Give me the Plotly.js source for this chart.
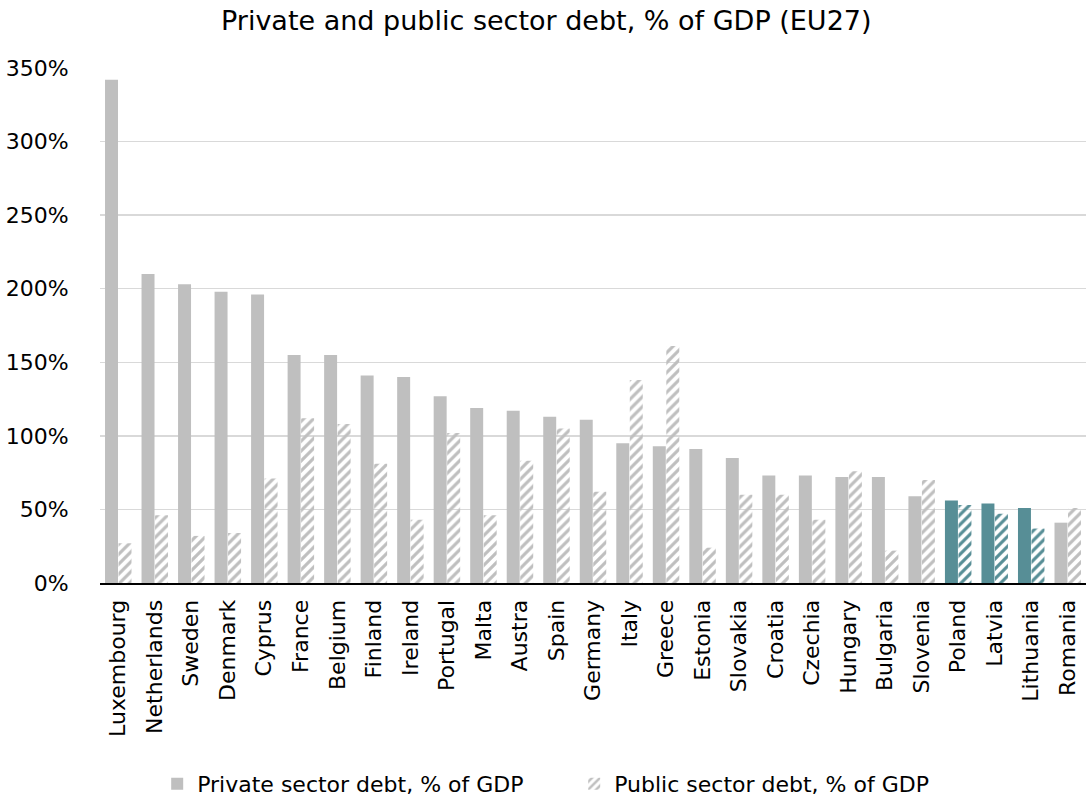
<!DOCTYPE html>
<html>
<head>
<meta charset="utf-8">
<script src="https://cdn.plot.ly/plotly-3.0.1.min.js"></script>
<style>html,body{margin:0;padding:0;background:#fff;}#chart{width:1086px;height:805px;}</style>
</head>
<body>
<div id="chart"></div>
<script>
const countries = ["Luxembourg","Netherlands","Sweden","Denmark","Cyprus","France","Belgium","Finland","Ireland","Portugal","Malta","Austra","Spain","Germany","Italy","Greece","Estonia","Slovakia","Croatia","Czechia","Hungary","Bulgaria","Slovenia","Poland","Latvia","Lithuania","Romania"];
const privateDebt = [342,210,203,198,196,155,155,141,140,127,119,117,113,111,95,93,91,85,73,73,72,72,59,56,54,51,41];
const publicDebt = [27,46,32,34,71,112,108,81,43,102,46,83,105,62,138,161,24,60,60,43,76,22,70,53,47,37,51];
const highlighted = ["Poland","Latvia","Lithuania"];
const yTicks = [0,50,100,150,200,250,300,350];
const yTickText = yTicks.map(v => v + "%");

const grey = "#BFBFBF", teal = "#578E96";
const colors = countries.map(c => highlighted.includes(c) ? teal : grey);

const font = "DejaVu Sans, sans-serif";
const data = [
  {
    type: "bar", name: "Private sector debt, % of GDP",
    x: countries, y: privateDebt,
    marker: {color: colors, line: {width: 0}},
    hoverinfo: "x+y"
  },
  {
    type: "bar", name: "Public sector debt, % of GDP",
    x: countries, y: publicDebt,
    marker: {color: colors, line: {width: 0},
      pattern: {shape: "/", fgcolor: colors, bgcolor: "#ffffff", size: 7, solidity: 0.45, fillmode: "replace"}},
    hoverinfo: "x+y"
  }
];
const layout = {
  width: 1086, height: 805,
  margin: {l: 100, r: 0, t: 68, b: 220},
  paper_bgcolor: "#fff", plot_bgcolor: "#fff",
  font: {family: font, color: "#000", size: 22},
  title: {text: "Private and public sector debt, % of GDP (EU27)", font: {family: font, size: 27, color: "#000"}, x: 0.503, xanchor: "center", xref: "container", y: 0.975, yanchor: "middle"},
  barmode: "group", bargap: 0.26, bargroupgap: 0.04,
  xaxis: {type: "category", tickangle: -90, showline: true, linecolor: "#000", linewidth: 2,
    ticks: "outside", ticklen: 6, tickcolor: "rgba(0,0,0,0)", showgrid: false,
    tickfont: {family: font, size: 22, color: "#000"}},
  yaxis: {range: [0, 350], tickvals: yTicks, ticktext: yTickText, showline: false,
    showgrid: true, gridcolor: "#D9D9D9", gridwidth: 1.5, zeroline: false,
    ticks: "outside", ticklen: 26, tickcolor: "rgba(0,0,0,0)",
    tickfont: {family: font, size: 22, color: "#000"}},
  legend: {orientation: "h", x: 0.058, xanchor: "left", y: -0.39, yanchor: "middle",
    font: {family: font, size: 22, color: "#000"}, itemwidth: 30, traceorder: "normal",
    entrywidth: 372, entrywidthmode: "pixels"},
  showlegend: true
};
Plotly.newPlot("chart", data, layout, {displayModeBar: false, staticPlot: true});
</script>
</body>
</html>
